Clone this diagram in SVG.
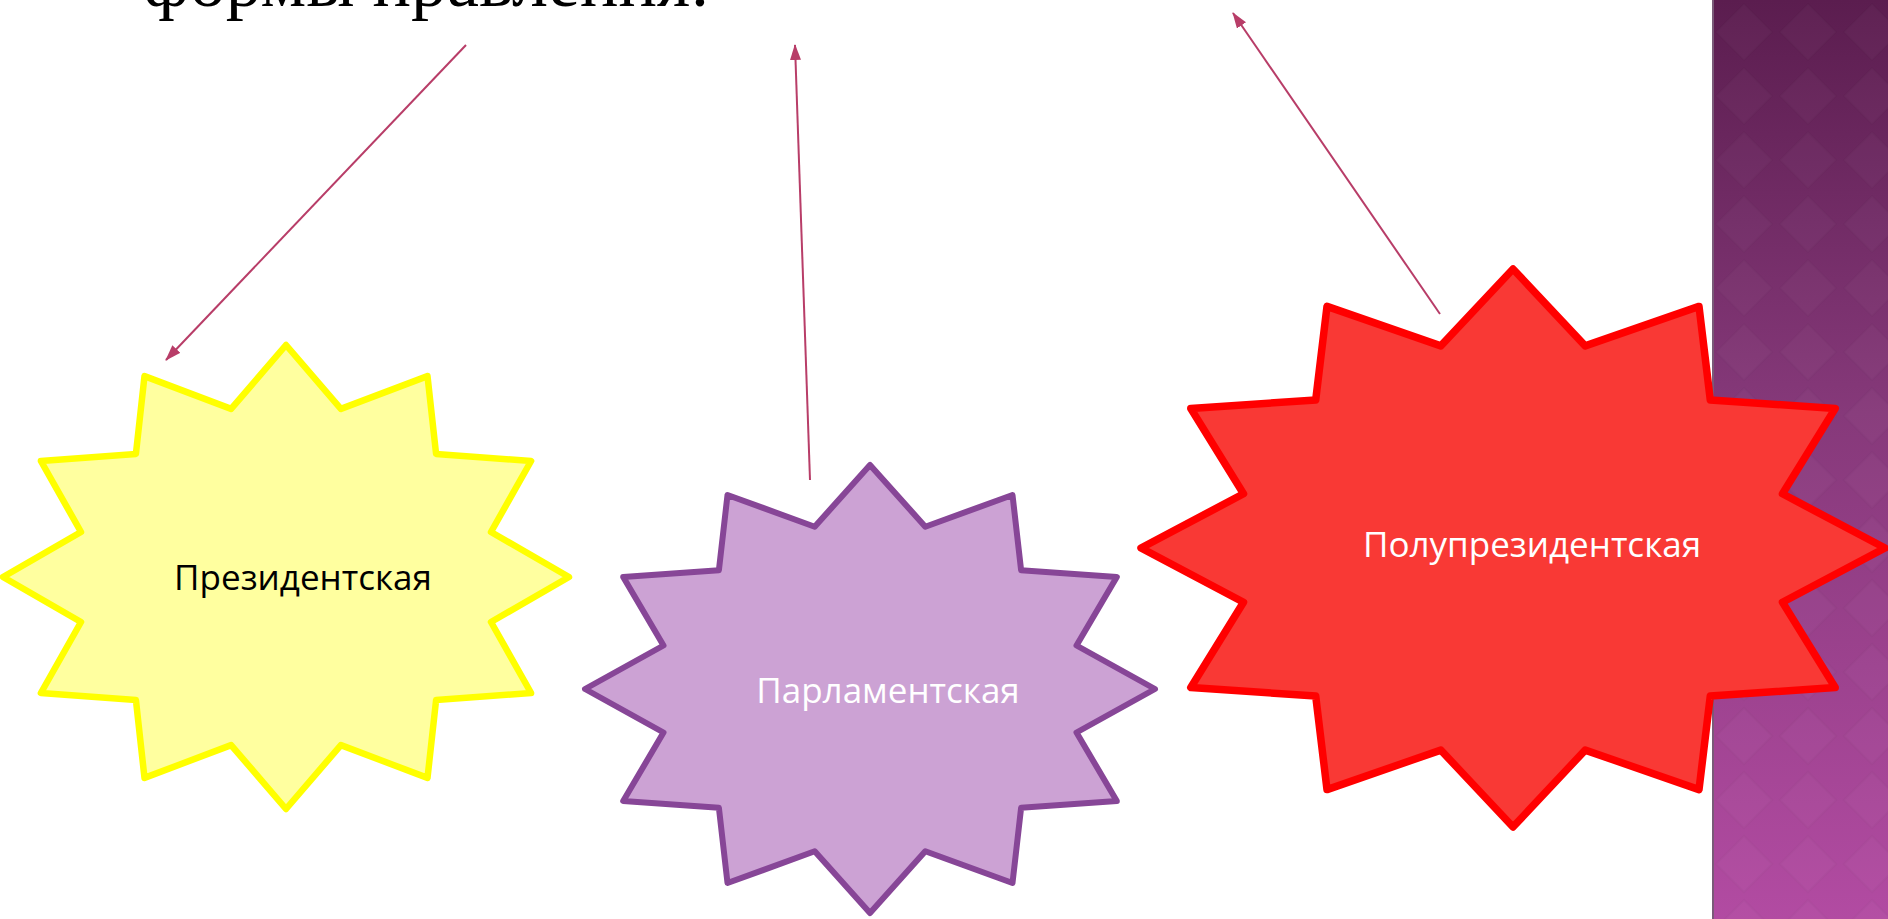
<svg xmlns="http://www.w3.org/2000/svg" width="1888" height="919" viewBox="0 0 1888 919">
  <defs>
    <linearGradient id="panelGrad" x1="0" y1="0" x2="0" y2="1">
      <stop offset="0" stop-color="#5b1d4f"/>
      <stop offset="0.45" stop-color="#86397a"/>
      <stop offset="1" stop-color="#b24ba2"/>
    </linearGradient>
    <pattern id="diamonds" x="1712" y="0" width="64" height="64" patternUnits="userSpaceOnUse">
      <path d="M32,4 L60,32 L32,60 L4,32 Z" fill="#ffffff" fill-opacity="0.025" stroke="#000000" stroke-opacity="0.02" stroke-width="2"/>
    </pattern>
    <marker id="arrow" viewBox="0 0 16 11" refX="15" refY="5.5" markerWidth="8" markerHeight="5.5" markerUnits="strokeWidth" orient="auto">
      <path d="M0,0 L16,5.5 L0,11 Z" fill="#b83d68"/>
    </marker>
    <style>
      .title { font-family: "Liberation Serif", "Times New Roman", serif; font-size: 72px; fill: #000000; }
      .star { stroke-linejoin: round; }
      .label { font-family: "Open Sans", "Noto Sans", sans-serif; font-size: 35px; text-anchor: middle; }
      .conn { stroke: #b83d68; stroke-width: 2; fill: none; marker-end: url(#arrow); }
    </style>
  </defs>

  <rect x="0" y="0" width="1888" height="919" fill="#ffffff"/>

  <g id="side-panel">
    <rect x="1712" y="0" width="176" height="919" fill="url(#panelGrad)"/>
    <rect x="1712" y="0" width="176" height="919" fill="url(#diamonds)"/>
    <rect x="1712" y="0" width="2" height="919" fill="#7a5a78"/>
  </g>

  <text class="title" x="143" y="6">формы правления:</text>

  <g id="connectors">
    <line class="conn" x1="466" y1="45" x2="166" y2="360"/>
    <line class="conn" x1="810" y1="480" x2="795" y2="45"/>
    <line class="conn" x1="1440" y1="314" x2="1233" y2="13"/>
  </g>

  <g id="node-presidential">
    <polygon class="star" fill="#ffff9f" stroke="#ffff00" stroke-width="6.5"
      points="569,577 491,532 531.1,461 436.1,454 427.5,376.1 340.9,408.9 286,345 231.1,408.9 144.5,376.1 135.9,454 40.9,461 81,532 3,577 81,622 40.9,693 135.9,700 144.5,777.9 231.1,745.1 286,809 340.9,745.1 427.5,777.9 436.1,700 531.1,693 491,622"/>
    <text class="label" x="303" y="590" fill="#000000">Президентская</text>
  </g>

  <g id="node-parliamentary">
    <polygon class="star" fill="#cca2d4" stroke="#874697" stroke-width="6"
      points="1155,689 1076.5,645.5 1116.8,577 1021.1,570.2 1012.5,495 925.3,526.7 870,465 814.7,526.7 727.5,495 718.9,570.2 623.2,577 663.5,645.5 585,689 663.5,732.5 623.2,801 718.9,807.8 727.5,883 814.7,851.3 870,913 925.3,851.3 1012.5,883 1021.1,807.8 1116.8,801 1076.5,732.5"/>
    <text class="label" x="888" y="703" fill="#ffffff">Парламентская</text>
  </g>

  <g id="node-semipresidential">
    <polygon class="star" fill="#f93935" stroke="#ff0000" stroke-width="7.5"
      points="1885,548 1782.5,493.8 1835.2,408.5 1710.3,400 1699,306.4 1585.2,345.9 1513,269 1440.8,345.9 1327,306.4 1315.7,400 1190.8,408.5 1243.5,493.8 1141,548 1243.5,602.2 1190.8,687.5 1315.7,696 1327,789.6 1440.8,750.1 1513,827 1585.2,750.1 1699,789.6 1710.3,696 1835.2,687.5 1782.5,602.2"/>
    <text class="label" x="1532" y="557" fill="#ffffff">Полупрезидентская</text>
  </g>
</svg>
